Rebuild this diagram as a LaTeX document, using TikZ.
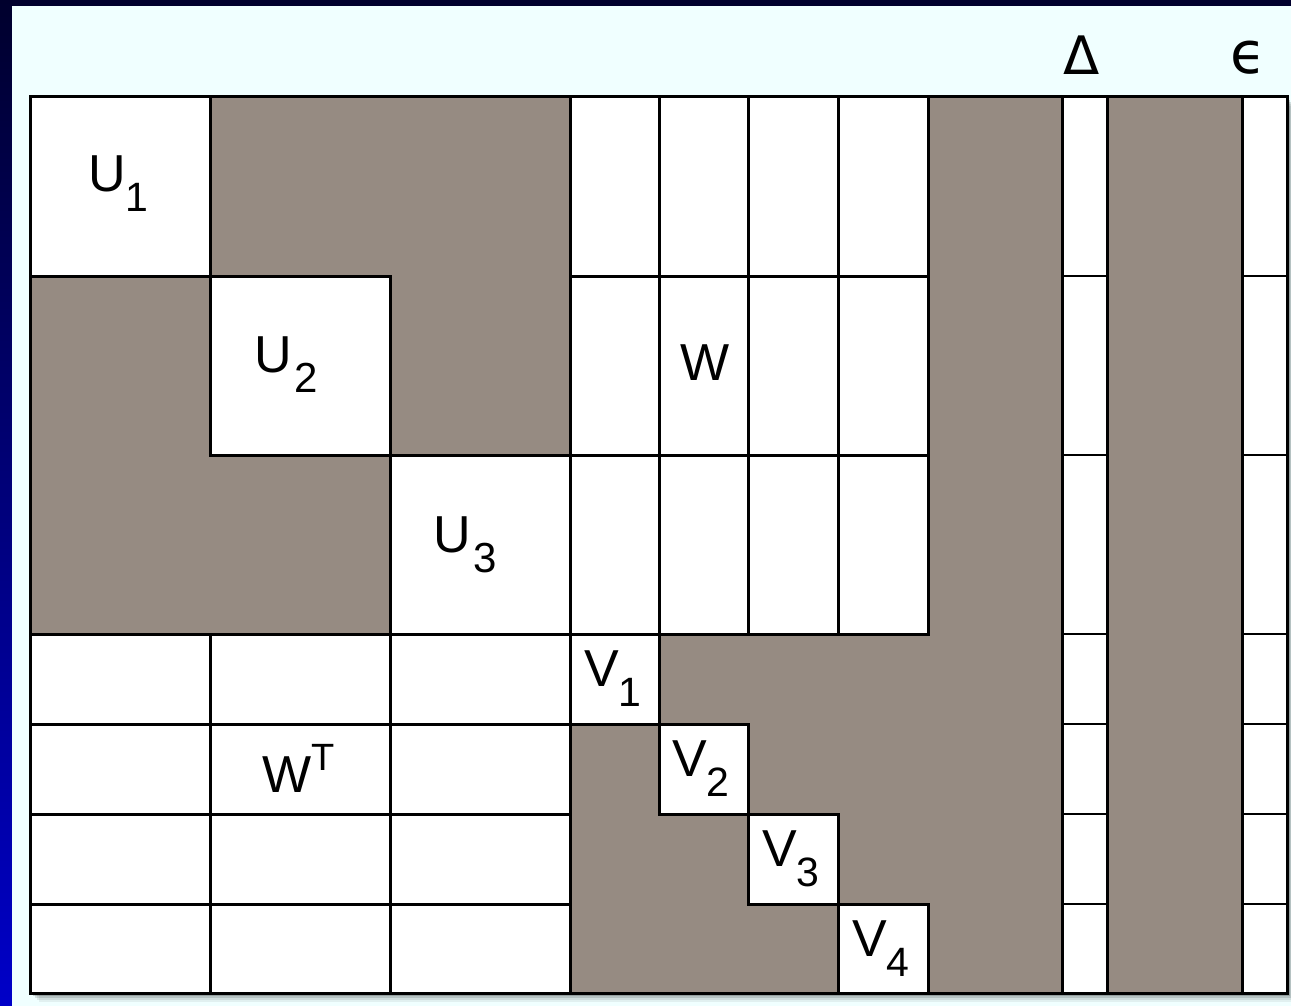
\documentclass[tikz,border=0pt]{standalone}
\usepackage{fontspec}
\setmainfont{Liberation Sans}
\newfontfamily\dejavu{DejaVu Sans}
\definecolor{cellgray}{RGB}{150,139,130}
\definecolor{panel}{RGB}{240,255,255}
\definecolor{navy}{RGB}{0,0,45}
\definecolor{brightblue}{RGB}{0,0,200}
\newcommand\sublab[2]{#1\raisebox{-20pt}{\fontsize{41}{41}\selectfont #2}}
\newcommand\usublab[2]{#1\hspace{3pt}\raisebox{-20pt}{\fontsize{42}{42}\selectfont #2}}
\newcommand\suplab[2]{#1\raisebox{22pt}{\fontsize{38}{38}\selectfont #2}}
\begin{document}
\begin{tikzpicture}[x=1pt,y=-1pt,
  gridline/.style={line width=3pt, black},
  thinline/.style={line width=2.4pt, black},
  shaded/.style={fill=cellgray},
  lab/.style={anchor=base west, inner sep=0pt, font=\fontsize{52}{60}\selectfont},
  sym/.style={anchor=base, inner sep=0pt, font=\dejavu\fontsize{53}{60}\selectfont}]
\useasboundingbox (0,0) rectangle (1291,1006);
% background
\fill[navy] (0,0) rectangle (1291,1006);
\shade[top color=navy, bottom color=brightblue] (0,0) rectangle (12,1006);
\fill[panel] (12,6) rectangle (1291,1006);
% shadow
\foreach \d/\o in {9/0.06,7/0.08,5/0.12,3/0.18}
  \fill[black,opacity=\o] (30+\d,97+\d) rectangle (1287+\d,993+\d);
% matrix base
\fill[white] (30,97) rectangle (1287,993);
% gray regions
\fill[shaded] (30,97) rectangle (570,634);
\fill[shaded] (570,634) rectangle (928,993);
\fill[shaded] (928,97) rectangle (1062,993);
\fill[shaded] (1107,97) rectangle (1242,993);
% white diagonal blocks
\fill[white] (30,97) rectangle (210,276);
\fill[white] (210,276) rectangle (390,455);
\fill[white] (390,455) rectangle (570,634);
\fill[white] (570,634) rectangle (659,724);
\fill[white] (659,724) rectangle (748,814);
\fill[white] (748,814) rectangle (838,904);
\fill[white] (838,904) rectangle (928,993);
% block borders
\draw[gridline] (30,97) rectangle (210,276);
\draw[gridline] (210,276) rectangle (390,455);
\draw[gridline] (390,455) rectangle (570,634);
\draw[gridline] (570,634) rectangle (659,724);
\draw[gridline] (659,724) rectangle (748,814);
\draw[gridline] (748,814) rectangle (838,904);
\draw[gridline] (838,904) rectangle (928,993);
% W region
\draw[gridline] (570,97) rectangle (928,634);
\foreach \x in {659,748,838} \draw[gridline] (\x,97) -- (\x,634);
\foreach \y in {276,455} \draw[gridline] (570,\y) -- (928,\y);
% W^T region
\draw[gridline] (30,634) rectangle (570,993);
\foreach \x in {210,390} \draw[gridline] (\x,634) -- (\x,993);
\foreach \y in {724,814,904} \draw[gridline] (30,\y) -- (570,\y);
% Delta and epsilon columns
\draw[gridline] (1062,97) rectangle (1107,993);
\draw[gridline] (1242,97) rectangle (1287,993);
\foreach \y in {276,455,634,724,814,904} {
  \draw[thinline] (1062,\y) -- (1107,\y);
  \draw[thinline] (1242,\y) -- (1287,\y);
}
% outer border
\draw[gridline] (30,97) rectangle (1287,993);
% labels
\node[lab] (u1) at (88,192) {\sublab{U}{1}};
\node[lab] (u2) at (254,372) {\usublab{U}{2}};
\node[lab] (u3) at (433,552) {\usublab{U}{3}};
\node[lab] (w) at (680,380) {W};
\node[lab] (wt) at (262,792) {\suplab{W}{T}};
\node[lab] (v1) at (584,686) {\sublab{V}{1}};
\node[lab] (v2) at (672,776) {\sublab{V}{2}};
\node[lab] (v3) at (762,866) {\sublab{V}{3}};
\node[lab] (v4) at (852,956) {\sublab{V}{4}};
\node[sym] (delta) at (1082,75) {Δ};
\node[sym, font=\dejavu\fontsize{58}{64}\selectfont] (eps) at (1248,74) {ϵ};
\end{tikzpicture}
\end{document}
